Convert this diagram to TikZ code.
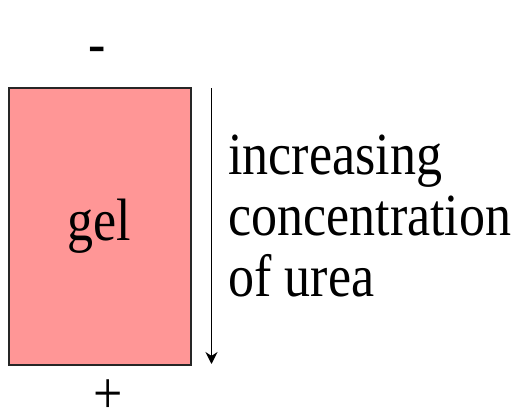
\documentclass[tikz,border=0pt]{standalone}
\usepackage{fontspec}
\setmainfont{Liberation Serif}
\usepackage{xcolor}
\usetikzlibrary{arrows.meta, positioning}
\definecolor{gelpink}{RGB}{255,150,150}

\begin{document}
\begin{tikzpicture}[
    x=0.5pt, y=-0.5pt,
    every node/.style={font=\fontsize{26}{26.5}\selectfont, transform shape, yscale=1.15},
    gelbox/.style={draw=black!85, line width=1pt, fill=gelpink, minimum width=91pt, minimum height=120.4pt, inner sep=0pt},
    a/.style={-{Stealth[length=6pt, width=6pt]}, line width=0.8pt},
    lbl/.style={align=left, inner sep=0pt, anchor=base west}
]
\useasboundingbox (0,0) rectangle (520,412);
% gel box
\node[gelbox] (gel) at (99.5,226.5) {gel};
\node[inner sep=0pt] (minus) at (97,55) {-};
\node[inner sep=0pt] (plus) at (108,397) {+};
% gradient arrow
\coordinate (gtop) at (211.5,88);
\coordinate (gbot) at (211.5,364);
\draw[a] (gtop) -- (gbot);
\node[lbl] (urea) at (228,296) {increasing\\concentration\\of urea};
\end{tikzpicture}
\end{document}
